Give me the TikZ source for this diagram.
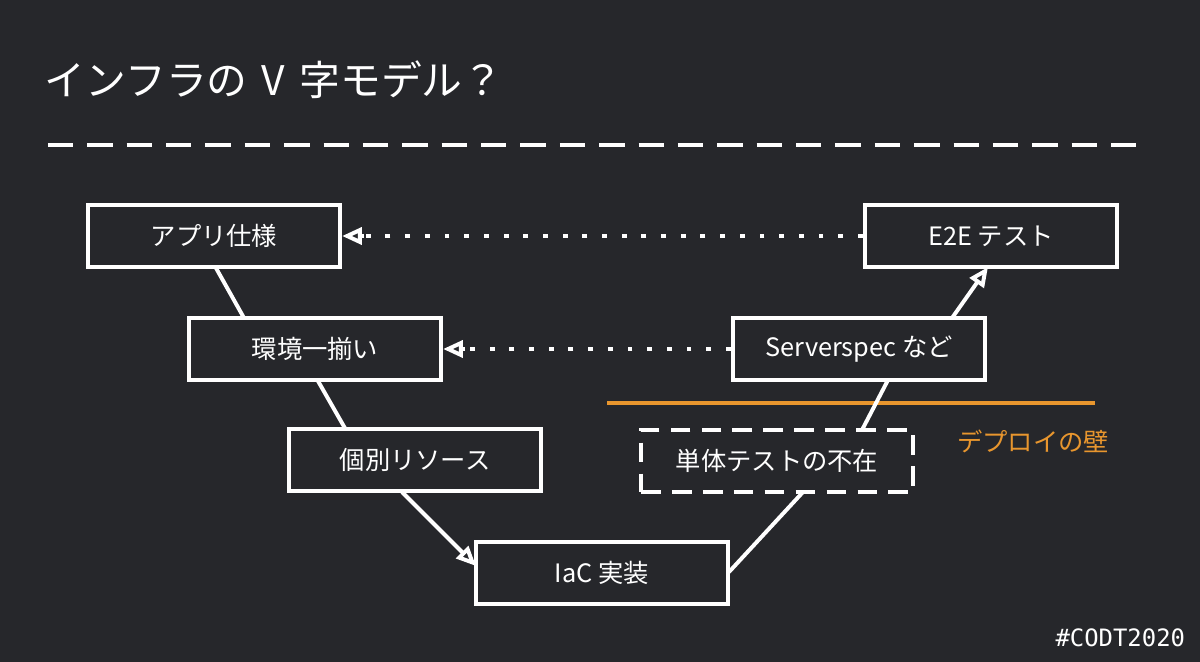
\documentclass[tikz,border=0pt]{standalone}
\usepackage{fontspec}
\setmainfont{Noto Sans CJK JP}
\newfontfamily\monof{DejaVu Sans Mono}
\usetikzlibrary{arrows.meta}
\definecolor{bg}{HTML}{26272B}
\definecolor{org}{HTML}{E8962E}
\begin{document}
\begin{tikzpicture}[x=0.025cm,y=-0.025cm,
  box/.style={draw=white,line width=3pt,fill=bg,text=white,font=\fontsize{18}{21}\selectfont,inner sep=0pt,minimum width=6.3cm,minimum height=1.55cm},
  ln/.style={draw=white,line width=2.8pt},
  tip/.style={-{Triangle[open,length=14pt,width=12pt,fill=bg]}},
  dots/.style={white,line width=3.5pt,dash pattern=on 3.5pt off 10.5pt}]
\fill[bg] (0,0) rectangle (1200,662);
\useasboundingbox (0,0) rectangle (1200,662);
\node[anchor=west,text=white,font=\fontsize{29}{34}\selectfont] (title) at (40,80) {インフラの\hspace{0.35em}V\hspace{0.35em}字モデル？};
\draw[white,line width=3pt,dash pattern=on 18pt off 10pt] (48,145) -- (1150,145);
\node[box] (a) at (214,236) {アプリ仕様};
\node[box] (b) at (315,349) {環境一揃い};
\node[box] (c) at (415,460) {個別リソース};
\node[box] (d) at (602,573) {IaC 実装};
\node[box,dash pattern=on 14pt off 8pt,minimum width=6.8cm] (e) at (777,461) {単体テストの不在};
\node[box] (f) at (859,349) {Serverspec など};
\node[box] (g) at (991,236) {E2E テスト};
\coordinate (a1) at (216,268); \coordinate (b1) at (244,318);
\coordinate (b2) at (318,381); \coordinate (c1) at (346,430);
\coordinate (c2) at (402,492); \coordinate (d1) at (476,566);
\coordinate (d2) at (729,572); \coordinate (e1) at (803,492);
\coordinate (e2) at (862,430); \coordinate (f1) at (888,380);
\coordinate (f2) at (952,318); \coordinate (g1) at (988,267);
\draw[ln] (a1) -- (b1);
\draw[ln] (b2) -- (c1);
\draw[ln,tip] (c2) -- (d1);
\draw[ln] (d2) -- (e1);
\draw[org,line width=3pt] (607,403) -- (1095,403);
\draw[ln] (e2) -- (f1);
\draw[ln,tip] (f2) -- (g1);
\coordinate (a2) at ([xshift=0.55cm]a.east);
\coordinate (b3) at ([xshift=0.55cm]b.east);
\draw[dots] (g.west) -- (a2);
\draw[ln,tip] (a2) -- (a.east);
\draw[dots] (f.west) -- (b3);
\draw[ln,tip] (b3) -- (b.east);
\node[text=org,font=\fontsize{18}{21}\selectfont] (w) at (1033,441) {デプロイの壁};
\node[text=white,font=\monof\fontsize{17}{20}\selectfont,anchor=east] (h) at (1190,638) {\#CODT2020};
\end{tikzpicture}
\end{document}
